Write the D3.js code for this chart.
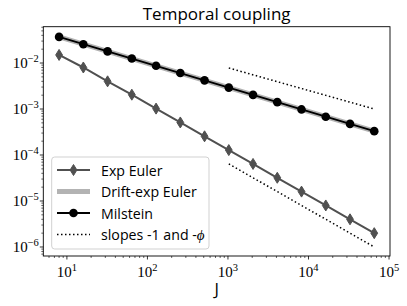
<!DOCTYPE html>
<html><head><meta charset="utf-8">
<script src="https://cdn.jsdelivr.net/npm/d3@7"></script>
<style>body{margin:0;background:#fff}svg{display:block}</style>
</head><body>
<script>
const J = [8,16,32,64,128,256,512,1024,2048,4096,8192,16384,32768,65536];
const expEuler = [1.5e-2,8.0e-3,4.0e-3,2.05e-3,1.02e-3,5.1e-4,2.55e-4,1.28e-4,6.4e-5,3.2e-5,1.6e-5,8.0e-6,4.0e-6,2.0e-6];
const driftExpEuler = [3.7e-2,2.57e-2,1.79e-2,1.25e-2,8.7e-3,6.05e-3,4.2e-3,2.92e-3,2.03e-3,1.41e-3,9.8e-4,6.8e-4,4.76e-4,3.3e-4];
const milstein = [3.7e-2,2.57e-2,1.79e-2,1.25e-2,8.7e-3,6.05e-3,4.2e-3,2.92e-3,2.03e-3,1.41e-3,9.8e-4,6.8e-4,4.76e-4,3.3e-4];
const slopePhiJ = [1024,65536], slopePhi = [7.8e-3,1.0e-3];
const slopeOneJ = [1024,65536], slopeOne = [6.4e-5,1.0e-6];
const xTicks = [1e1,1e2,1e3,1e4,1e5], xTickExp = ["1","2","3","4","5"];
const yTicks = [1e-6,1e-5,1e-4,1e-3,1e-2], yTickExp = ["−6","−5","−4","−3","−2"];
const legendLabels = ["Exp Euler","Drift-exp Euler","Milstein","slopes -1 and -"];

const W=407,H=306, L=43.3,R=390,T=26.7,B=256;
const svg=d3.select("body").append("svg").attr("width",W).attr("height",H);
const x=d3.scaleLog().domain([Math.pow(10,0.707),Math.pow(10,5.012)]).range([L,R]);
const y=d3.scaleLog().domain([Math.pow(10,-6.196),Math.pow(10,-1.21)]).range([B,T]);

svg.append("clipPath").attr("id","c").append("rect").attr("x",L).attr("y",T).attr("width",R-L).attr("height",B-T);
const g=svg.append("g").attr("clip-path","url(#c)");
const line=(xs,ys)=>d3.line().x((d,i)=>x(xs[i])).y(d=>y(d))(ys);
const EC="#505050";

// Exp Euler
g.append("path").attr("d",line(J,expEuler)).attr("fill","none").attr("stroke",EC).attr("stroke-width",2);
const dia=d3.symbol().type({draw(ctx,s){const h=5.5,w=3.4;ctx.moveTo(0,-h);ctx.lineTo(w,0);ctx.lineTo(0,h);ctx.lineTo(-w,0);ctx.closePath();}})();
g.selectAll(".d").data(expEuler).join("path").attr("d",dia).attr("transform",(d,i)=>`translate(${x(J[i])},${y(d)})`).attr("fill",EC).attr("stroke",EC).attr("stroke-width",1);
// Drift-exp Euler
g.append("path").attr("d",line(J,driftExpEuler)).attr("fill","none").attr("stroke","#b3b3b3").attr("stroke-width",5);
// Milstein
g.append("path").attr("d",line(J,milstein)).attr("fill","none").attr("stroke","#000").attr("stroke-width",1.8);
g.selectAll(".m").data(milstein).join("circle").attr("cx",(d,i)=>x(J[i])).attr("cy",d=>y(d)).attr("r",4.3).attr("fill","#000");
// slopes
[[slopePhiJ,slopePhi],[slopeOneJ,slopeOne]].forEach(([xs,ys])=>{
  g.append("path").attr("d",line(xs,ys)).attr("fill","none").attr("stroke","#000").attr("stroke-width",1.5).attr("stroke-dasharray","1.5,2.5");
});

// axes frame
svg.append("rect").attr("x",L).attr("y",T).attr("width",R-L).attr("height",B-T).attr("fill","none").attr("stroke","#000").attr("stroke-width",0.9);

// ticks
const minors=(dom)=>{const out=[];for(let e=-8;e<=6;e++)for(let k=2;k<=9;k++){const v=k*Math.pow(10,e);if(v>=dom[0]&&v<=dom[1])out.push(v);}return out;};
const ax=svg.append("g").attr("stroke","#000").attr("stroke-width",0.8);
xTicks.forEach(v=>ax.append("line").attr("x1",x(v)).attr("x2",x(v)).attr("y1",B).attr("y2",B+3.5));
minors(x.domain()).forEach(v=>ax.append("line").attr("x1",x(v)).attr("x2",x(v)).attr("y1",B).attr("y2",B+2).attr("stroke-width",0.6));
yTicks.forEach(v=>ax.append("line").attr("y1",y(v)).attr("y2",y(v)).attr("x1",L).attr("x2",L-3.5));
minors(y.domain()).forEach(v=>ax.append("line").attr("y1",y(v)).attr("y2",y(v)).attr("x1",L).attr("x2",L-2).attr("stroke-width",0.6));

const serif="'Liberation Serif','DejaVu Serif',serif";
xTicks.forEach((v,i)=>{
  const t=svg.append("text").attr("x",x(v)).attr("y",B+21).attr("text-anchor","middle").attr("font-family",serif).attr("font-size",15);
  t.append("tspan").text("10");
  t.append("tspan").text(xTickExp[i]).attr("font-size",10.5).attr("dy",-6);
});
yTicks.forEach((v,i)=>{
  const t=svg.append("text").attr("x",L-4.5).attr("y",y(v)+5).attr("text-anchor","end").attr("font-family",serif).attr("font-size",15);
  t.append("tspan").text("10");
  t.append("tspan").text(yTickExp[i]).attr("font-size",10.5).attr("dy",-6);
});

const sans="'Open Sans','DejaVu Sans',sans-serif";
svg.append("text").attr("x",(L+R)/2).attr("y",19.5).attr("text-anchor","middle").attr("font-family",sans).attr("font-size",17).text("Temporal coupling");
svg.append("text").attr("x",(L+R)/2).attr("y",295).attr("text-anchor","middle").attr("font-family",sans).attr("font-size",16.5).text("J");

// legend
const lg=svg.append("g");
lg.append("rect").attr("x",51.7).attr("y",157).attr("width",157.3).attr("height",92).attr("rx",3).attr("fill","#fff").attr("fill-opacity",0.8).attr("stroke","#ccc").attr("stroke-width",0.9);
const ly=[170,191.5,213,234.5], hx0=57, hx1=90, tx=101;
lg.append("line").attr("x1",hx0).attr("x2",hx1).attr("y1",ly[0]).attr("y2",ly[0]).attr("stroke",EC).attr("stroke-width",2);
lg.append("path").attr("d",dia).attr("transform",`translate(${(hx0+hx1)/2},${ly[0]})`).attr("fill",EC).attr("stroke",EC);
lg.append("line").attr("x1",hx0).attr("x2",hx1).attr("y1",ly[1]).attr("y2",ly[1]).attr("stroke","#b3b3b3").attr("stroke-width",5);
lg.append("line").attr("x1",hx0).attr("x2",hx1).attr("y1",ly[2]).attr("y2",ly[2]).attr("stroke","#000").attr("stroke-width",1.8);
lg.append("circle").attr("cx",(hx0+hx1)/2).attr("cy",ly[2]).attr("r",4.3).attr("fill","#000");
lg.append("line").attr("x1",hx0).attr("x2",hx1).attr("y1",ly[3]).attr("y2",ly[3]).attr("stroke","#000").attr("stroke-width",1.5).attr("stroke-dasharray","1.5,2.5");
legendLabels.forEach((s,i)=>{
  const t=lg.append("text").attr("x",tx).attr("y",ly[i]+5.5).attr("font-family",sans).attr("font-size",14.2).text(s);
  if(i===3) t.append("tspan").text("ϕ").attr("font-family",serif).attr("font-style","italic").attr("font-size",15);
});
</script>
</body></html>
